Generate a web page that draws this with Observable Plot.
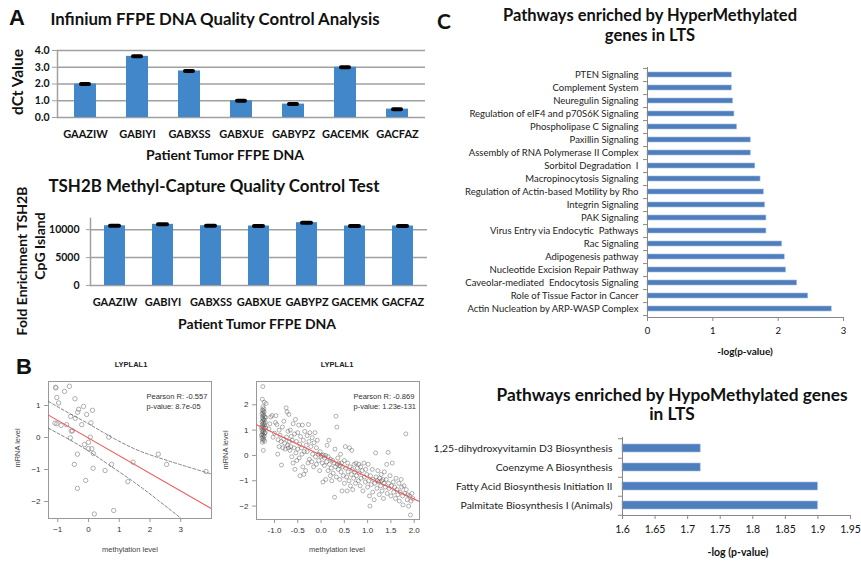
<!DOCTYPE html>
<html><head><meta charset="utf-8">
<script src="https://cdn.jsdelivr.net/npm/d3@7"></script>
<script src="https://cdn.jsdelivr.net/npm/@observablehq/plot@0.6"></script>
<style>
body{margin:0;background:#fff;}
#root{position:relative;width:861px;height:563px;overflow:hidden;background:#fff;font-family:Lato,sans-serif;color:#111;}
.lbl{position:absolute;white-space:nowrap;transform:translate(-50%,-50%);line-height:1;}
.box{position:absolute;}
</style></head><body><div id="root"></div>
<script>
// ---------- DATA ----------
const qcSamples = ["GAAZIW","GABIYI","GABXSS","GABXUE","GABYPZ","GACEMK","GACFAZ"];
const dctValues = [2.0, 3.65, 2.78, 1.0, 0.8, 3.0, 0.5];
const foldValues = [10700, 10950, 10700, 10650, 11250, 10650, 10650];
const dctTicks = [0, 1, 2, 3, 4];
const foldTicks = [0, 5000, 10000];

const leftPts = [[-1.07,1.57],[-1.06,1.55],[-0.62,1.60],[-0.78,1.44],[-1.03,1.25],[-0.97,1.08],[-0.44,1.21],[-0.16,0.97],[-0.32,0.88],[-0.35,0.79],[-0.06,0.72],[0.13,0.85],[-0.58,0.66],[-0.43,0.60],[-1.09,0.45],[-1.03,0.43],[-0.89,0.38],[-0.71,0.40],[-0.22,0.40],[0.08,0.46],[-0.56,0.20],[-0.52,0.21],[-0.59,-0.01],[0.06,0.01],[0.66,0.01],[0.0,-0.15],[-0.13,-0.22],[0.0,-0.35],[0.11,-0.35],[0.16,-0.50],[-0.36,-0.52],[2.27,-0.52],[-0.46,-0.84],[0.75,-0.84],[0.54,-1.03],[1.45,-0.77],[2.54,-0.84],[3.82,-1.06],[0.15,-0.96],[-0.09,-1.34],[1.28,-1.38],[-0.36,-1.59],[0.82,-2.28],[0.19,-2.39]];
const leftFit = [[-1.3,0.70],[4.0,-2.22]];
const leftUpper = [[-1.3,1.13],[-0.67,0.78],[0,0.43],[0.66,0.06],[1.49,-0.35],[2.25,-0.62],[3.0,-0.85],[4.0,-1.14]];
const leftLower = [[-1.3,0.29],[-0.67,-0.04],[0,-0.42],[0.66,-0.85],[1.49,-1.40],[2.25,-1.95],[3.0,-2.52],[3.2,-2.7]];

const rightPts = [[-1.25,2.72],[-1.26,2.22],[-1.22,2.1],[-1.25,1.92],[-1.23,1.85],[-1.26,1.8],[-1.24,1.76],[-1.22,1.72],[-1.25,1.68],[-1.27,1.64],[-1.23,1.6],[-1.25,1.55],[-1.21,1.52],[-1.26,1.48],[-1.24,1.44],[-1.22,1.4],[-1.25,1.36],[-1.27,1.32],[-1.23,1.28],[-1.25,1.24],[-1.21,1.2],[-1.26,1.16],[-1.24,1.12],[-1.22,1.08],[-1.25,1.04],[-1.27,1.0],[-1.23,0.96],[-1.25,0.92],[-1.21,0.88],[-1.26,0.84],[-1.24,0.8],[-1.22,0.76],[-1.25,0.72],[-1.27,0.68],[-1.23,0.64],[-1.25,0.6],[-1.21,0.56],[-1.26,0.52],[-1.2,1.3],[-1.19,1.1],[-1.2,0.9],[-1.19,1.5],[-1.28,1.1],[-1.28,0.8],[-1.24,0.2],[-1.18,2.05],
[-1.12,1.05],[-1.1,1.25],[-1.08,1.52],[-1.05,1.58],[-1.03,0.72],[-1.0,0.88],[-0.98,1.3],[-0.97,1.57],[-0.95,1.22],[-0.93,0.05],[-0.92,0.62],[-0.9,0.35],[-0.9,1.0],[-0.88,0.8],[-0.86,0.55],[-0.85,-0.38],[-0.83,1.12],[-0.82,0.3],[-0.8,0.65],[-0.8,1.35],[-0.78,0.48],[-0.77,0.25],[-0.75,1.88],[-0.74,0.72],[-0.73,1.72],[-0.72,0.4],[-0.71,0.95],[-0.7,0.3],[-0.69,1.62],[-0.68,0.55],[-0.67,0.2],[-0.66,1.0],[-0.65,0.35],[-0.64,0.75],[-0.63,-0.05],[-0.62,0.6],[-0.6,1.25],[-0.6,-0.3],[-0.58,0.3],[-0.57,0.85],[-0.56,-0.55],[-0.55,1.42],[-0.54,0.1],[-0.53,0.55],[-0.52,-0.2],[-0.5,0.9],[-0.5,0.25],[-0.48,1.2],[-0.47,-0.1],[-0.46,0.45],[-0.45,-0.8],[-0.44,0.75],[-0.42,0.3],[-0.41,0.05],[-0.4,1.2],[-0.39,-0.45],[-0.38,0.6],[-0.37,-0.75],[-0.36,0.15],[-0.35,0.95],[-0.33,-0.6],[-0.32,0.4],[-0.3,0.15],[-0.3,0.78],[-0.28,-0.3],[-0.27,1.22],[-0.26,0.55],[-0.25,-0.15],[-0.24,0.9],[-0.22,0.35],[-0.2,-0.25],[-0.19,0.7],[-0.18,0.05],[-0.16,-0.45],[-0.15,0.5],[-0.13,0.9],[-0.12,-0.05],[-0.1,0.3],[-0.1,-0.35],[-0.08,0.6],[-0.06,0.05],[-0.05,-0.2],[-0.03,-0.6],[-0.02,0.15],[0.0,-0.05],[0.02,0.0],[0.03,-0.3],[0.04,-1.05],[0.05,0.02],[0.07,-0.4],[0.08,-0.1],[0.1,0.0],[0.1,-0.95],[0.12,-0.25],[0.13,0.4],[0.15,-0.05],[0.15,-0.6],[0.17,0.6],[0.18,-0.35],[0.2,-0.8],[0.2,-0.15],[0.22,-0.5],[0.23,-1.0],[0.25,-0.2],[0.26,-0.7],[0.28,-0.3],[0.29,-1.65],[0.3,0.25],[0.31,-0.45],[0.32,1.55],[0.33,-0.85],[0.34,1.12],[0.35,-0.35],[0.36,-0.1],[0.37,-0.55],[0.38,-0.3],[0.4,-0.95],[0.41,-0.4],[0.42,0.05],[0.43,-0.65],[0.44,-0.3],[0.45,-1.4],[0.46,-0.45],[0.48,-0.8],[0.5,-0.2],[0.5,-1.1],[0.52,0.35],[0.53,-0.5],[0.55,-0.85],[0.56,-1.4],[0.57,-0.3],[0.58,-0.65],[0.6,-1.0],[0.61,0.3],[0.62,-0.45],[0.63,-1.2],[0.65,-0.75],[0.66,0.2],[0.67,-0.55],[0.68,-1.35],[0.7,-0.9],[0.71,-0.35],[0.72,-0.65],[0.74,-1.1],[0.75,-0.3],[0.76,-0.8],[0.78,-0.5],[0.8,-1.0],[0.81,-0.35],[0.82,-0.7],[0.84,-1.2],[0.85,-0.45],[0.86,-0.9],[0.88,-0.6],[0.9,-1.4],[0.92,-0.3],[0.93,-0.85],[0.95,-1.05],[0.96,-0.55],[0.98,-0.75],[1.0,-1.25],[1.01,-0.35],[1.02,-1.0],[1.04,-1.6],[1.05,-2.0],[1.06,-0.8],[1.08,-1.15],[1.1,-0.55],[1.11,-1.45],[1.12,-0.95],[1.14,-1.75],[1.15,-1.1],[1.17,0.1],[1.18,-0.85],[1.2,-1.3],[1.21,-1.0],[1.22,-0.6],[1.24,-1.05],[1.25,-1.55],[1.26,-0.9],[1.28,-1.2],[1.29,-0.75],[1.3,-1.0],[1.31,-1.4],[1.33,-0.95],[1.34,-1.7],[1.35,-1.1],[1.36,-0.65],[1.38,-1.25],[1.4,-0.95],[1.41,-0.35],[1.42,-1.5],[1.44,0.12],[1.45,-1.1],[1.46,-1.3],[1.48,-0.8],[1.5,-1.6],[1.51,-1.2],[1.53,-0.3],[1.55,-1.05],[1.56,-1.45],[1.58,-1.25],[1.6,-1.7],[1.61,-0.9],[1.63,-1.35],[1.65,-1.55],[1.67,-1.1],[1.68,-1.8],[1.7,-1.45],[1.72,-0.95],[1.73,-1.25],[1.75,-1.6],[1.76,-1.95],[1.78,-1.2],[1.8,-1.5],[1.82,0.85],[1.83,-1.35],[1.85,-1.75],[1.86,-1.55],[1.88,-2.0],[1.9,-1.6],[1.92,-2.35],[1.93,-1.8],[1.95,-1.5],[1.97,-1.7]];
const rightFit = [[-1.386,1.21],[2.114,-1.82]];

const hyperPaths = ["PTEN Signaling","Complement System","Neuregulin Signaling","Regulation of eIF4 and p70S6K Signaling","Phospholipase C Signaling","Paxillin Signaling","Assembly of RNA Polymerase II Complex","Sorbitol Degradation  I","Macropinocytosis Signaling","Regulation of Actin-based Motility by Rho","Integrin Signaling","PAK Signaling","Virus Entry via Endocytic  Pathways","Rac Signaling","Adipogenesis pathway","Nucleotide Excision Repair Pathway","Caveolar-mediated  Endocytosis Signaling","Role of Tissue Factor in Cancer","Actin Nucleation by ARP-WASP Complex"];
const hyperValues = [1.29,1.29,1.31,1.33,1.37,1.58,1.58,1.65,1.73,1.78,1.80,1.82,1.82,2.06,2.10,2.12,2.29,2.46,2.82];
const hypoPaths = ["1,25-dihydroxyvitamin D3 Biosynthesis","Coenzyme A Biosynthesis","Fatty Acid Biosynthesis Initiation II","Palmitate Biosynthesis I (Animals)"];
const hypoValues = [1.72, 1.72, 1.90, 1.90];
const hyperTicks = [0, 1, 2, 3];
const hypoTicks = [1.6, 1.65, 1.7, 1.75, 1.8, 1.85, 1.9, 1.95];

// ---------- HELPERS ----------
const root = document.getElementById("root");
function place(svg, left, top) {
  const d = document.createElement("div");
  d.className = "box"; d.style.left = left + "px"; d.style.top = top + "px";
  d.appendChild(svg); root.appendChild(d);
}
function label(str, x, y, css = "", rot = false) {
  const d = document.createElement("div");
  d.className = "lbl"; d.textContent = str;
  d.style.left = x + "px"; d.style.top = y + "px";
  d.style.cssText += css;
  if (rot) d.style.transform = "translate(-50%,-50%) rotate(-90deg)";
  root.appendChild(d);
}
const baseStyle = {background: "transparent", fontFamily: "Lato, sans-serif", color: "#111", overflow: "visible"};
const GRID = "#a0a0a0";
const BARA = "#4287c9";
const BARC = "#4f7ebd";

// ---------- PANEL A (top) ----------
const qc = qcSamples.map((s, i) => ({s, v: dctValues[i]}));
place(Plot.plot({
  width: 430, height: 125, marginLeft: 57, marginRight: 5, marginTop: 10, marginBottom: 48,
  style: baseStyle,
  x: {domain: qcSamples, paddingInner: 0.58, paddingOuter: 0.29, label: null},
  y: {domain: [0, 4], label: null},
  marks: [
    Plot.gridY(dctTicks, {stroke: GRID, strokeOpacity: 1, strokeWidth: 1.5}),
    Plot.barY(qc, {x: "s", y: "v", fill: BARA}),
    Plot.tickY(qc, {x: "s", y: "v", stroke: "#000", strokeWidth: 4, strokeLinecap: "round", insetLeft: 7, insetRight: 7}),
    Plot.frame({anchor: "left", stroke: GRID, strokeWidth: 1.5}),
    Plot.axisY(dctTicks, {tickFormat: d => d.toFixed(1), tickSize: 5, tickPadding: 3, fontSize: 10.5, fontWeight: "bold", stroke: GRID, label: null}),
    Plot.axisX({tickSize: 0, tickPadding: 13, fontSize: 11, fontWeight: "bold", label: null})
  ]
}), 0, 40);
label("A", 17, 18, "font:bold 22px 'Liberation Sans',Arial,sans-serif;");
label("Infinium FFPE DNA  Quality Control Analysis", 215, 19, "font-weight:bold;font-size:16.8px;");
label("dCt Value", 18, 82, "font-weight:bold;font-size:15.5px;", true);
label("Patient Tumor FFPE DNA", 225, 155, "font-weight:bold;font-size:14px;");

// ---------- PANEL A (bottom) ----------
const fe = qcSamples.map((s, i) => ({s, v: foldValues[i]}));
place(Plot.plot({
  width: 430, height: 130, marginLeft: 90, marginRight: 3, marginTop: 13, marginBottom: 50,
  style: baseStyle,
  x: {domain: qcSamples, paddingInner: 0.56, paddingOuter: 0.28, label: null},
  y: {domain: [0, 12000], label: null},
  marks: [
    Plot.gridY(foldTicks, {stroke: GRID, strokeOpacity: 1, strokeWidth: 1.5}),
    Plot.barY(fe, {x: "s", y: "v", fill: BARA}),
    Plot.tickY(fe, {x: "s", y: "v", stroke: "#000", strokeWidth: 4, strokeLinecap: "round", insetLeft: 6, insetRight: 6}),
    Plot.frame({anchor: "left", stroke: GRID, strokeWidth: 1.5}),
    Plot.axisY(foldTicks, {tickFormat: d => String(d), tickSize: 4, tickPadding: 7, fontSize: 10.5, fontWeight: "bold", stroke: GRID, label: null}),
    Plot.axisX({tickSize: 0, tickPadding: 13, fontSize: 11, fontWeight: "bold", label: null})
  ]
}), 0, 205);
label("TSH2B Methyl-Capture Quality  Control Test", 214, 186, "font-weight:bold;font-size:16.9px;");
label("Fold Enrichment TSH2B", 22, 261, "font-weight:bold;font-size:14px;", true);
label("CpG Island", 40, 246, "font-weight:bold;font-size:14px;", true);
label("Patient Tumor FFPE DNA", 257, 324, "font-weight:bold;font-size:14px;");

// ---------- PANEL B ----------
const rStyle = {background: "transparent", fontFamily: "'Liberation Sans', Arial, sans-serif", color: "#333", overflow: "visible"};
const xy = {x: d => d[0], y: d => d[1]};
place(Plot.plot({
  width: 225, height: 215, marginLeft: 48, marginRight: 14, marginTop: 36, marginBottom: 42,
  style: rStyle,
  x: {domain: [-1.3, 4.0], label: null},
  y: {domain: [-2.53, 1.75], label: null},
  marks: [
    Plot.frame({stroke: "#999"}),
    Plot.dot(leftPts, {...xy, r: 2.2, stroke: "#999", strokeWidth: 0.8}),
    Plot.line(leftUpper, {...xy, stroke: "#666", strokeDasharray: "3,2", strokeWidth: 0.8, curve: "natural", clip: true}),
    Plot.line(leftLower, {...xy, stroke: "#666", strokeDasharray: "3,2", strokeWidth: 0.8, curve: "natural", clip: true}),
    Plot.line(leftFit, {...xy, stroke: "#f25555", strokeWidth: 1.1, clip: true}),
    Plot.axisX([-1, 0, 1, 2, 3], {tickSize: 4, tickPadding: 4, fontSize: 8, stroke: "#999", label: null}),
    Plot.axisY([-2, -1, 0, 1], {tickSize: 4, tickPadding: 4, fontSize: 8, stroke: "#999", label: null}),
    Plot.text(["Pearson R: -0.557\np-value: 8.7e-05"], {frameAnchor: "top-right", textAnchor: "start", lineAnchor: "top", dx: -65, dy: 11, fontSize: 7.5, lineHeight: 1.3, fill: "#333"})
  ]
}), 0, 345);
place(Plot.plot({
  width: 210, height: 215, marginLeft: 31, marginRight: 16, marginTop: 36, marginBottom: 41,
  style: rStyle,
  x: {domain: [-1.386, 2.114], label: null},
  y: {domain: [-2.53, 2.92], label: null},
  marks: [
    Plot.frame({stroke: "#999"}),
    Plot.dot(rightPts, {...xy, r: 2, stroke: "#444", strokeOpacity: 0.5, strokeWidth: 0.8}),
    Plot.line(rightFit, {...xy, stroke: "#f25555", strokeWidth: 1.1, clip: true}),
    Plot.axisX([-1, -0.5, 0, 0.5, 1, 1.5, 2], {tickFormat: d => d.toFixed(1), tickSize: 4, tickPadding: 4, fontSize: 8, stroke: "#999", label: null}),
    Plot.axisY([-2, -1, 0, 1, 2], {tickSize: 4, tickPadding: 4, fontSize: 8, stroke: "#999", label: null}),
    Plot.text(["Pearson R: -0.869\np-value: 1.23e-131"], {frameAnchor: "top-right", textAnchor: "start", lineAnchor: "top", dx: -66, dy: 11, fontSize: 7.5, lineHeight: 1.3, fill: "#333"})
  ]
}), 225, 345);
label("B", 24, 367, "font:bold 22px 'Liberation Sans',Arial,sans-serif;");
const rl = "font:bold 7.5px 'Liberation Sans',Arial,sans-serif;color:#222;";
const ra = "font:7.5px 'Liberation Sans',Arial,sans-serif;color:#444;";
label("LYPLAL1", 131, 364, rl);
label("LYPLAL1", 337, 364, rl);
label("methylation level", 130, 549, ra);
label("methylation level", 337, 549, ra);
label("mRNA level", 17, 448, ra, true);
label("mRNA level", 225, 450, ra, true);

// ---------- PANEL C (hyper) ----------
const hyper = hyperPaths.map((p, i) => ({p, v: hyperValues[i]}));
const hyperStep = (280 - 7 - 23) / 19;
place(Plot.plot({
  width: 431, height: 280, marginLeft: 217, marginRight: 18, marginTop: 7, marginBottom: 23,
  style: baseStyle,
  x: {domain: [0, 3], label: null},
  y: {domain: hyperPaths, paddingInner: 0.6, paddingOuter: 0.3, label: null},
  marks: [
    Plot.barX(hyper, {y: "p", x: "v", fill: BARC, stroke: "#9dbbe0", strokeWidth: 0.6}),
    Plot.ruleX([0], {stroke: "#888"}),
    Plot.frame({anchor: "bottom", stroke: "#888"}),
    Plot.axisX(hyperTicks, {tickSize: 4, tickPadding: 6, fontSize: 9.5, stroke: "#888", label: null}),
    Plot.axisY({tickSize: 0, tickPadding: 9, fontSize: 9.5, fill: "#222", label: null}),
    Plot.axisY(hyperPaths, {tickSize: 4, tickFormat: () => "", dy: hyperStep / 2, stroke: "#888", label: null}),
    Plot.axisY([hyperPaths[0]], {tickSize: 4, tickFormat: () => "", dy: -hyperStep / 2, stroke: "#888", label: null})
  ]
}), 430, 60);
label("C", 444, 20, "font-weight:bold;font-size:21px;");
label("Pathways enriched by HyperMethylated", 650, 15, "font-weight:bold;font-size:16.5px;");
label("genes in LTS", 650, 35, "font-weight:bold;font-size:16.5px;");
label("-log(p-value)", 745, 351, "font-weight:bold;font-size:10px;");

// ---------- PANEL C (hypo) ----------
const hypo = hypoPaths.map((p, i) => ({p, v: hypoValues[i]}));
const hypoStep = (115 - 7 - 30) / 4;
place(Plot.plot({
  width: 431, height: 115, marginLeft: 192, marginRight: 11, marginTop: 7, marginBottom: 30,
  style: baseStyle,
  x: {domain: [1.6, 1.95], label: null},
  y: {domain: hypoPaths, paddingInner: 0.58, paddingOuter: 0.29, label: null},
  marks: [
    Plot.barX(hypo, {y: "p", x1: 1.6, x2: "v", fill: BARC, stroke: "#9dbbe0", strokeWidth: 0.6}),
    Plot.ruleX([1.6], {stroke: "#888"}),
    Plot.frame({anchor: "bottom", stroke: "#888"}),
    Plot.axisX(hypoTicks, {tickFormat: d => String(d), tickSize: 4, tickPadding: 6, fontSize: 10.5, stroke: "#888", label: null}),
    Plot.axisY({tickSize: 0, tickPadding: 10, fontSize: 10.4, fill: "#222", label: null}),
    Plot.axisY(hypoPaths, {tickSize: 4, tickFormat: () => "", dy: hypoStep / 2, stroke: "#888", label: null}),
    Plot.axisY([hypoPaths[0]], {tickSize: 4, tickFormat: () => "", dy: -hypoStep / 2, stroke: "#888", label: null})
  ]
}), 430, 430);
label("Pathways enriched by HypoMethylated genes", 672, 395, "font-weight:bold;font-size:17.3px;");
label("in LTS", 672, 414, "font-weight:bold;font-size:17.3px;");
label("-log (p-value)", 738, 552, "font-weight:bold;font-size:10.5px;");
</script></body></html>
